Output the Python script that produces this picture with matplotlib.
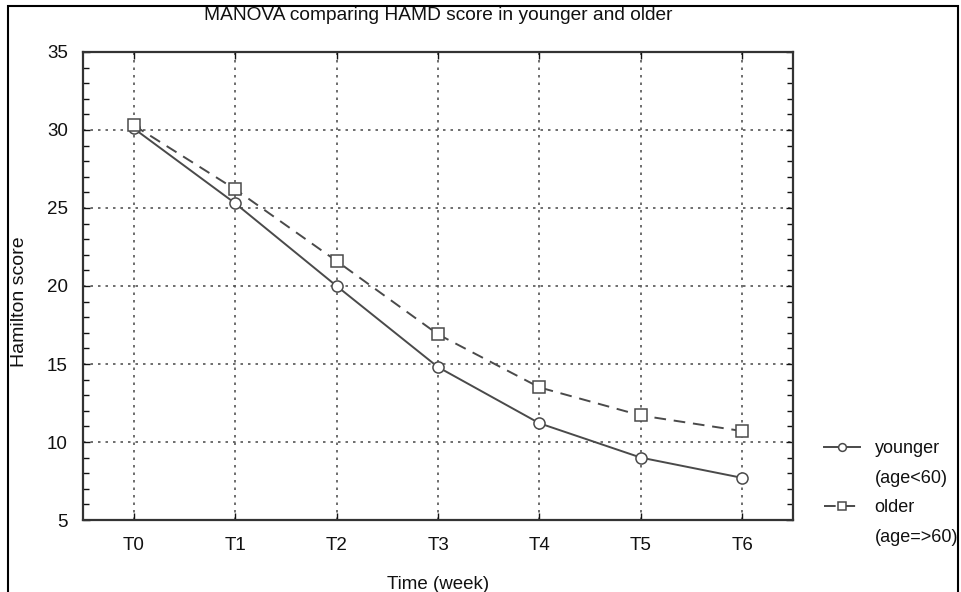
import numpy as np
import matplotlib.pyplot as plt
from matplotlib.lines import Line2D
from matplotlib.patches import Rectangle
from matplotlib.ticker import MultipleLocator

# Mean HAMD scores per week
weeks = ['T0', 'T1', 'T2', 'T3', 'T4', 'T5', 'T6']
younger = [30.1, 25.3, 20.0, 14.8, 11.2, 9.0, 7.7]
older = [30.3, 26.2, 21.6, 16.9, 13.5, 11.7, 10.7]

plt.rcParams['font.family'] = ['Liberation Sans', 'DejaVu Sans']

fig = plt.figure(figsize=(9.61, 5.92), dpi=100)
ax = fig.add_axes([0.0864, 0.1216, 0.7388, 0.7906])

x = np.arange(len(weeks))
col = '#4a4a4a'
ln_y, = ax.plot(x, younger, '-', color=col, lw=1.4, marker='o', ms=8,
                mfc='white', mec=col, mew=1.1)
ln_o, = ax.plot(x, older, '--', color=col, lw=1.4, dashes=(6, 4), marker='s',
                ms=8, mfc='white', mec=col, mew=1.1)

ax.set_xlim(-0.5, 6.5)
ax.set_ylim(5, 35)
ax.set_xticks(x)
ax.set_xticklabels(weeks)
ax.yaxis.set_major_locator(MultipleLocator(5))
ax.yaxis.set_minor_locator(MultipleLocator(1))
ax.tick_params(which='both', direction='in', top=True, right=True,
               labelsize=13.5, colors='#111111')
ax.tick_params(which='major', length=5, width=1)
ax.tick_params(which='minor', length=4, width=1)
ax.tick_params(axis='x', pad=12)
ax.tick_params(axis='y', pad=11)
ax.grid(True, which='major', linestyle=(0, (1.5, 3)), color='#555555', lw=1.2)
for s in ax.spines.values():
    s.set_linewidth(1.6)
    s.set_color('#333333')

ax.set_title('MANOVA comparing HAMD score in younger and older',
             fontsize=13.8, pad=23, color='#111111')
ax.set_xlabel('Time (week)', fontsize=13.5, labelpad=16, color='#111111')
ax.set_ylabel('Hamilton score', fontsize=14, color='#111111')
ax.yaxis.set_label_coords(-0.078, 0.466)

blank = Line2D([], [], linestyle='none')
fig.legend([ln_y, blank, ln_o, blank],
           ['younger', '(age<60)', 'older', '(age=>60)'],
           loc='upper left', bbox_to_anchor=(824 / 961, 1 - 440 / 592),
           frameon=False, fontsize=13, handlelength=2.0, handletextpad=0.8,
           labelspacing=0.7, borderaxespad=0, borderpad=0, markerscale=0.7,
           labelcolor='#111111')

# outer frame around the figure
fig.patches.append(Rectangle((8 / 961, -0.05), 950 / 961, 1.05 - 6 / 592,
                             transform=fig.transFigure, fill=False,
                             lw=1.5, ec='black'))

fig.savefig('out.png', dpi=100)
